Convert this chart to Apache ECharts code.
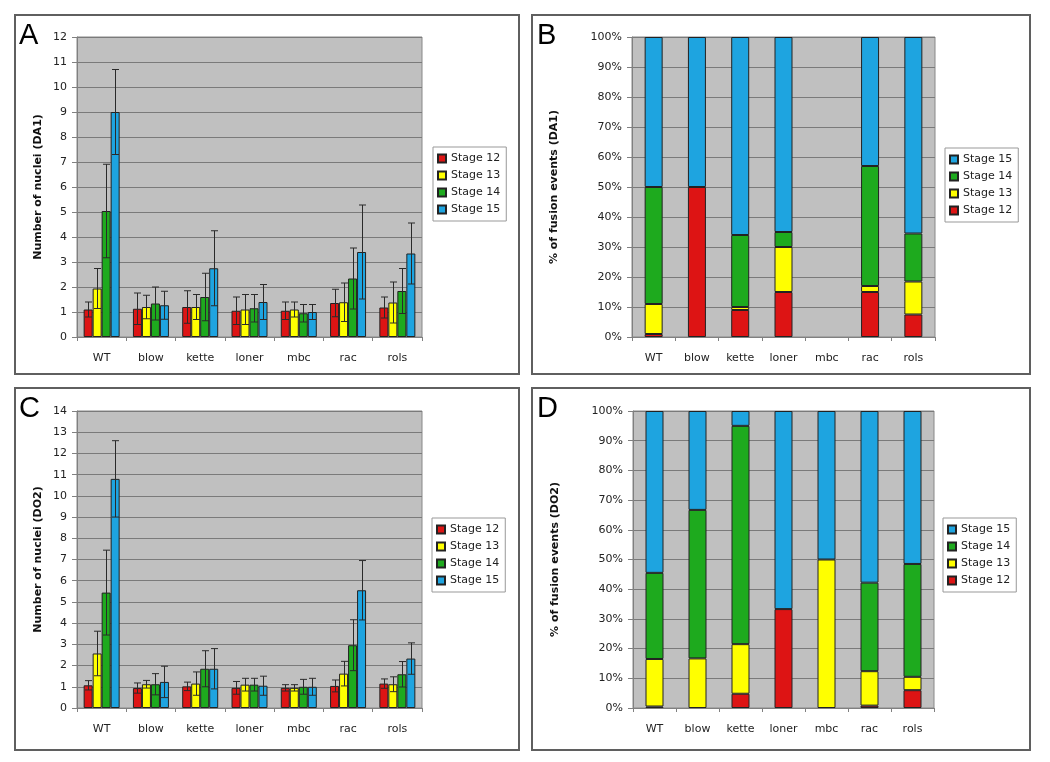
<!DOCTYPE html>
<html><head><meta charset="utf-8">
<script src="https://cdn.jsdelivr.net/npm/echarts@6/dist/echarts.min.js"></script>
<style>html,body{margin:0;padding:0;background:#fff}#c{width:1050px;height:762px}</style>
</head><body><div id="c"></div>
<script>
const categories = ['WT','blow','kette','loner','mbc','rac','rols'];
const stages = ['Stage 12','Stage 13','Stage 14','Stage 15'];

// Panel A: number of nuclei (DA1), means and error (+/-)
const da1_s12 = [1.1, 1.13, 1.2, 1.05, 1.05, 1.36, 1.18];
const da1_s13 = [1.94, 1.2, 1.2, 1.1, 1.1, 1.39, 1.38];
const da1_s14 = [5.04, 1.34, 1.6, 1.15, 0.95, 2.34, 1.84];
const da1_s15 = [9.0, 1.27, 2.75, 1.4, 1.0, 3.4, 3.34];
const da1_e12 = [0.3, 0.63, 0.65, 0.55, 0.35, 0.55, 0.42];
const da1_e13 = [0.8, 0.47, 0.5, 0.6, 0.3, 0.77, 0.82];
const da1_e14 = [1.87, 0.66, 0.95, 0.55, 0.35, 1.22, 0.9];
const da1_e15 = [1.7, 0.56, 1.5, 0.7, 0.3, 1.88, 1.22];

// Panel C: number of nuclei (DO2)
const do2_s12 = [1.07, 0.94, 1.02, 0.95, 0.95, 1.04, 1.15];
const do2_s13 = [2.57, 1.12, 1.15, 1.1, 0.95, 1.62, 1.12];
const do2_s14 = [5.44, 1.12, 1.85, 1.1, 1.0, 2.96, 1.59];
const do2_s15 = [10.8, 1.23, 1.85, 1.05, 1.0, 5.55, 2.33];
const do2_e12 = [0.22, 0.24, 0.2, 0.3, 0.15, 0.28, 0.22];
const do2_e13 = [1.05, 0.18, 0.55, 0.3, 0.15, 0.58, 0.35];
const do2_e14 = [2.0, 0.5, 0.85, 0.3, 0.35, 1.2, 0.6];
const do2_e15 = [1.8, 0.74, 0.95, 0.45, 0.4, 1.4, 0.74];

// Panel B: % of fusion events (DA1)
const b_s12 = [1, 50, 9, 15, 0, 15, 7.5];
const b_s13 = [10, 0, 1, 15, 0, 2, 11];
const b_s14 = [39, 0, 24, 5, 0, 40, 16];
const b_s15 = [50, 50, 66, 65, 0, 43, 65.5];

// Panel D: % of fusion events (DO2)
const d_s12 = [0.5, 0, 4.8, 33.3, 0, 0.8, 6];
const d_s13 = [16, 16.7, 16.7, 0, 50, 11.6, 4.5];
const d_s14 = [29, 50, 73.5, 0, 0, 29.8, 38];
const d_s15 = [54.5, 33.3, 5, 66.7, 50, 57.8, 51.5];

const colors = ['#dd1414', '#ffff00', '#1eaa1e', '#1ea4e0'];
const FONT = 'DejaVu Sans';
const BARW = 9;

const chart = echarts.init(document.getElementById('c'), null, {renderer:'canvas'});

function grid(left, top, width, height){
  return {left, top, width, height, show:true, backgroundColor:'#c0c0c0', borderColor:'#888', borderWidth:1, containLabel:false};
}
function xAx(gi){
  return {type:'category', gridIndex:gi, data:categories,
    axisLine:{show:true, lineStyle:{color:'#808080'}},
    axisTick:{show:true, length:4, lineStyle:{color:'#808080'}},
    axisLabel:{color:'#222', fontSize:11, fontFamily:FONT, margin:16}};
}
function yAx(gi, max, interval, name, pct, gap){
  return {type:'value', gridIndex:gi, min:0, max, interval, name,
    nameLocation:'middle', nameGap:gap,
    nameTextStyle:{fontWeight:'bold', fontSize:11, fontFamily:FONT, color:'#111'},
    axisLine:{show:true, lineStyle:{color:'#808080'}},
    axisTick:{show:true, length:5, lineStyle:{color:'#808080'}},
    splitLine:{show:true, lineStyle:{color:'#7a7a7a', width:1}},
    axisLabel:{color:'#222', fontSize:11, fontFamily:FONT, margin:10,
      formatter: pct ? '{value}%' : '{value}'}};
}

const series = [];
function addCount(gi, means, errs){
  means.forEach((m, i) => {
    series.push({type:'bar', name:stages[i], xAxisIndex:gi, yAxisIndex:gi, data:m,
      barWidth:BARW, barGap:'0%',
      itemStyle:{color:colors[i], borderColor:'#222', borderWidth:1}});
  });
  means.forEach((m, i) => {
    const off = (i - 1.5) * BARW;
    series.push({type:'custom', xAxisIndex:gi, yAxisIndex:gi, z:5,
      data: m.map((v, k) => [k, v, errs[i][k]]),
      encode:{x:0, y:1},
      renderItem:function(params, api){
        const x = api.value(0), v = api.value(1), e = api.value(2);
        const t = api.coord([x, v + e]);
        const b = api.coord([x, v - e]);
        const cx = Math.round(t[0] + off) + 0.5;
        const style = {stroke:'#2a2a2a', lineWidth:1};
        return {type:'group', children:[
          {type:'line', shape:{x1:cx, y1:t[1], x2:cx, y2:b[1]}, style},
          {type:'line', shape:{x1:cx-3.5, y1:t[1], x2:cx+3.5, y2:t[1]}, style},
          {type:'line', shape:{x1:cx-3.5, y1:b[1], x2:cx+3.5, y2:b[1]}, style}
        ]};
      }});
  });
}
function addPct(gi, arrs){
  arrs.forEach((a, i) => {
    series.push({type:'bar', name:stages[i], xAxisIndex:gi, yAxisIndex:gi,
      data:a.map(v => v === 0 ? '-' : v),
      stack:'s'+gi, barWidth:18,
      itemStyle:{color:colors[i], borderColor:'#222', borderWidth:1}});
  });
}
addCount(0, [da1_s12, da1_s13, da1_s14, da1_s15], [da1_e12, da1_e13, da1_e14, da1_e15]);
addPct(1, [b_s12, b_s13, b_s14, b_s15]);
addCount(2, [do2_s12, do2_s13, do2_s14, do2_s15], [do2_e12, do2_e13, do2_e14, do2_e15]);
addPct(3, [d_s12, d_s13, d_s14, d_s15]);

function legend(left, top, order){
  return {show:true, orient:'vertical', left, top, data:order,
    itemWidth:8, itemHeight:8, itemGap:6, padding:[6,6,6,4],
    borderColor:'#999', borderWidth:1, backgroundColor:'#fff',
    selectedMode:false, icon:'rect',
    textStyle:{fontSize:11, fontFamily:FONT, color:'#222'}};
}
const rev = stages.slice().reverse();

function box(x, y, w, h){
  return {type:'rect', shape:{x, y, width:w, height:h}, style:{fill:'none', stroke:'#5f5f5f', lineWidth:2}, z:-1};
}
function letter(t, x, y){
  return {type:'text', x, y, style:{text:t, fontSize:29, fontFamily:'Liberation Sans', fill:'#000'}};
}

chart.setOption({
  backgroundColor:'#fff',
  animation:false,
  grid:[grid(77,37,345,300), grid(632,37,303,300), grid(77,411,345,297), grid(633,411,301,297)],
  xAxis:[xAx(0), xAx(1), xAx(2), xAx(3)],
  yAxis:[
    yAx(0, 12, 1, 'Number of nuclei (DA1)', false, 33),
    yAx(1, 100, 10, '% of fusion events (DA1)', true, 72),
    yAx(2, 14, 1, 'Number of nuclei (DO2)', false, 33),
    yAx(3, 100, 10, '% of fusion events (DO2)', true, 72)
  ],
  legend:[legend(433,147,stages), legend(945,148,rev), legend(432,518,stages), legend(943,518,rev)],
  graphic:[
    box(15,15,504,359), box(532,15,498,359), box(15,388,504,362), box(532,388,498,362),
    letter('A',19,21), letter('B',537,21), letter('C',19,394), letter('D',537,394)
  ],
  series
});
</script></body></html>
